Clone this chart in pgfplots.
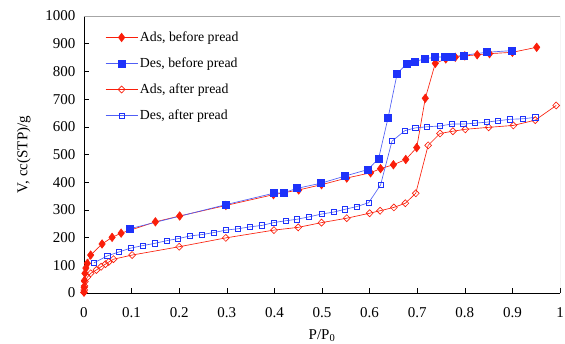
\documentclass[border=0pt]{standalone}
\usepackage{pgfplots}
\pgfplotsset{compat=1.18}
\usepackage{fontspec}
\setmainfont{Liberation Serif}
\definecolor{myred}{RGB}{250,30,10}
\definecolor{myblue}{RGB}{30,50,250}
\definecolor{lineblue}{RGB}{80,95,245}
\begin{document}
\begin{tikzpicture}
\begin{axis}[
  scale only axis, width=476pt, height=277pt,
  xmin=0, xmax=1, ymin=0, ymax=1000,
  xtick={0,0.1,...,1.01}, ytick={0,100,...,1000},
  xticklabels={0,0.1,0.2,0.3,0.4,0.5,0.6,0.7,0.8,0.9,1},
  yticklabels={0,100,200,300,400,500,600,700,800,900,1000},
  axis lines*=left,
  axis line style={black, line width=0.8pt},
  tick style={black, line width=0.6pt},
  major tick length=5pt,
  tick align=inside,
  /pgf/number format/assume math mode=true,
  ticklabel style={font=\fontsize{15}{17}\selectfont},
  xticklabel style={yshift=-11pt},
  yticklabel style={xshift=-5pt},
  label style={font=\fontsize{15}{17}\selectfont},
  xlabel={P/P\textsubscript{0}},
  ylabel={V, cc(STP)/g},
  xlabel style={yshift=-5pt},
  ylabel style={yshift=8pt},
  legend style={draw=none, fill=none, at={(rel axis cs:0.038,0.958)}, anchor=north west,
    font=\fontsize{13.8}{16}\selectfont, row sep=10.8pt},
  legend cell align=left,
  legend image code/.code={\draw[#1] (0pt,0pt) -- (32pt,0pt); \draw[#1, mark repeat=1] plot coordinates {(16pt,0pt)};},
]
\addplot[myred, line width=0.65pt, mark=diamond*, mark size=4.2pt, mark options={solid, fill=myred, draw=myred}] coordinates {
(0,3) (0.0005,20) (0.001,45) (0.002,71) (0.004,90) (0.007,107) (0.014,137) (0.038,177) (0.059,201) (0.078,216) (0.150,257) (0.201,278) (0.298,316) (0.398,355) (0.451,372) (0.499,391) (0.552,415) (0.602,434) (0.623,449) (0.650,463) (0.676,482) (0.699,525) (0.717,703) (0.738,829) (0.760,845) (0.780,851) (0.800,856) (0.826,860) (0.852,864) (0.900,869) (0.951,887)
};
\addlegendentry{Ads, before pread}
\addplot[lineblue, line width=0.65pt, mark=square*, mark size=3.5pt, mark options={solid, fill=myblue, draw=myblue}] coordinates {
(0.096,232) (0.298,319) (0.398,360) (0.419,362) (0.448,378) (0.497,396) (0.548,422) (0.597,446) (0.619,486) (0.639,634) (0.658,793) (0.679,829) (0.696,836) (0.717,846) (0.738,851) (0.759,853) (0.773,853) (0.797,858) (0.846,869) (0.898,875)
};
\addlegendentry{Des, before pread}
\addplot[myred, line width=0.65pt, mark=diamond, mark size=3.5pt, mark options={solid, fill=white, draw=myred, xscale=1.3}] coordinates {
(0,2) (0.0005,11) (0.001,25) (0.002,41) (0.007,57) (0.014,71) (0.026,83) (0.036,95) (0.045,104) (0.052,112) (0.062,122) (0.101,137) (0.200,167) (0.298,199) (0.399,227) (0.450,237) (0.499,254) (0.552,270) (0.600,288) (0.622,297) (0.651,309) (0.675,324) (0.697,360) (0.723,533) (0.748,576) (0.775,584) (0.801,591) (0.850,598) (0.902,605) (0.948,624) (0.992,677)
};
\addlegendentry{Ads, after pread}
\addplot[lineblue, line width=0.65pt, mark=square, mark size=2.6pt, mark options={solid, fill=white, draw=myblue}] coordinates {
(0.021,109) (0.049,134) (0.073,148) (0.098,162) (0.123,171) (0.148,179) (0.174,189) (0.197,196) (0.223,206) (0.248,211) (0.272,218) (0.298,227) (0.324,232) (0.349,239) (0.374,244) (0.398,254) (0.424,261) (0.447,266) (0.473,275) (0.499,285) (0.524,292) (0.548,302) (0.573,312) (0.598,326) (0.623,390) (0.647,548) (0.674,586) (0.696,596) (0.720,600) (0.748,603) (0.773,610) (0.797,610) (0.821,613) (0.847,617) (0.870,622) (0.895,627) (0.922,629) (0.948,634)
};
\addlegendentry{Des, after pread}
\draw[gray!70, line width=0.8pt] (rel axis cs:0,1) -- (rel axis cs:1,1) -- (rel axis cs:1,0);
\end{axis}
\pgfresetboundingbox
\path ([shift={(-84pt,-50pt)}]current axis.south west) rectangle ([shift={(5pt,16pt)}]current axis.north east);
\end{tikzpicture}
\end{document}
